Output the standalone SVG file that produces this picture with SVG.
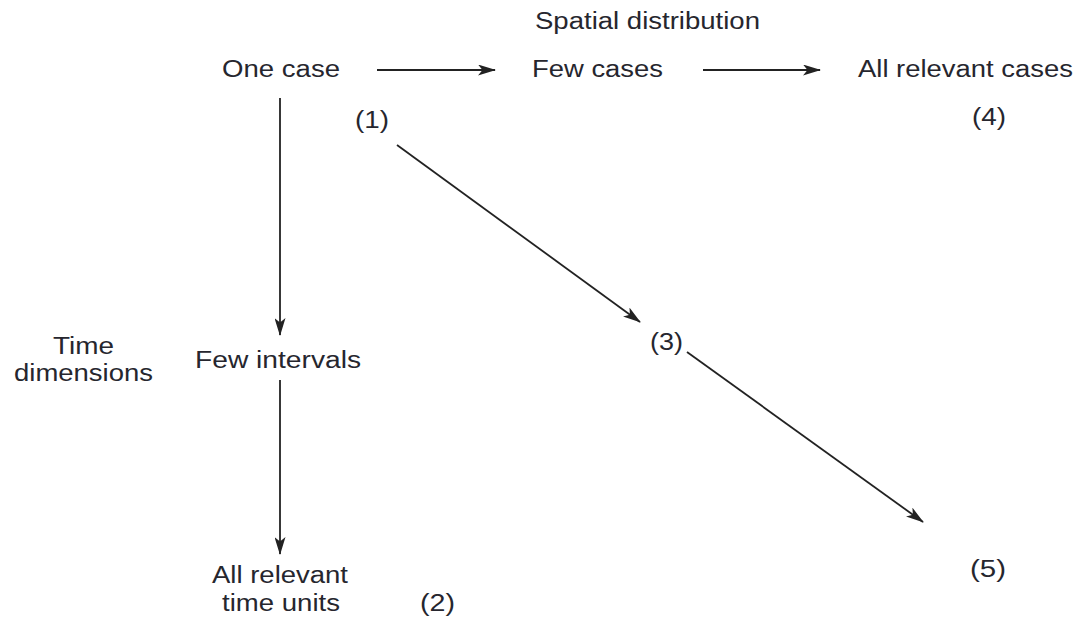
<svg xmlns="http://www.w3.org/2000/svg" width="1088" height="617" viewBox="0 0 1088 617">
<defs>
<style>
text{font-family:"Liberation Sans",Arial,sans-serif;font-size:23px;fill:#26262e}
.c{stroke:#222;stroke-width:1.8;fill:none}
</style>
<marker id="ah" viewBox="0 0 18 11" refX="17" refY="5.5" markerWidth="18" markerHeight="11" markerUnits="userSpaceOnUse" orient="auto">
<path d="M0,0 L18,5.5 L0,11 L4.5,5.5 Z" fill="#222"/>
</marker>
</defs>
<rect width="1088" height="617" fill="#fff"/>
<g id="spatial"><text x="535" y="29" textLength="225" lengthAdjust="spacingAndGlyphs">Spatial distribution</text></g>
<g id="one-case"><text x="222" y="77" textLength="118" lengthAdjust="spacingAndGlyphs">One case</text></g>
<g id="few-cases"><text x="532" y="77" textLength="131" lengthAdjust="spacingAndGlyphs">Few cases</text></g>
<g id="all-cases"><text x="858" y="77" textLength="215" lengthAdjust="spacingAndGlyphs">All relevant cases</text></g>
<g id="l1"><text x="355" y="128" textLength="34" lengthAdjust="spacingAndGlyphs">(1)</text></g>
<g id="l4"><text x="972" y="125" textLength="34" lengthAdjust="spacingAndGlyphs">(4)</text></g>
<g id="time-dim"><text x="53" y="354" textLength="61" lengthAdjust="spacingAndGlyphs">Time</text><text x="14" y="381" textLength="139" lengthAdjust="spacingAndGlyphs">dimensions</text></g>
<g id="few-intervals"><text x="195" y="368" textLength="166" lengthAdjust="spacingAndGlyphs">Few intervals</text></g>
<g id="l3"><text x="650" y="350" textLength="33" lengthAdjust="spacingAndGlyphs">(3)</text></g>
<g id="all-time"><text x="212" y="583" textLength="136" lengthAdjust="spacingAndGlyphs">All relevant</text><text x="222" y="611" textLength="118" lengthAdjust="spacingAndGlyphs">time units</text></g>
<g id="l2"><text x="420" y="611" textLength="35" lengthAdjust="spacingAndGlyphs">(2)</text></g>
<g id="l5"><text x="970" y="577" textLength="36" lengthAdjust="spacingAndGlyphs">(5)</text></g>
<g id="connectors">
<line class="c" x1="377" y1="70" x2="495" y2="70" marker-end="url(#ah)"/>
<line class="c" x1="703" y1="70" x2="820" y2="70" marker-end="url(#ah)"/>
<line class="c" x1="280" y1="98" x2="280" y2="335" marker-end="url(#ah)"/>
<line class="c" x1="280" y1="380" x2="280" y2="554" marker-end="url(#ah)"/>
<line class="c" x1="397" y1="145" x2="640" y2="322" marker-end="url(#ah)"/>
<line class="c" x1="687" y1="352" x2="923" y2="522" marker-end="url(#ah)"/>
</g>
</svg>
